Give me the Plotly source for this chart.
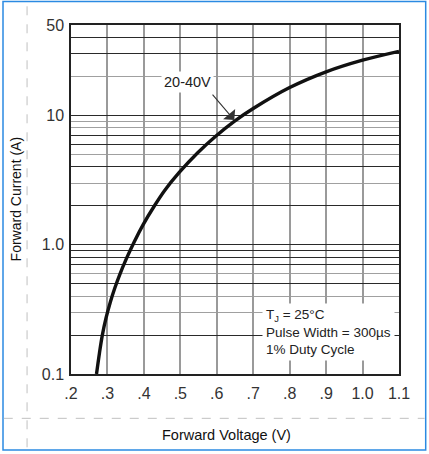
import numpy as np
import plotly.graph_objects as go

# forward voltage (V) vs forward current (A)
voltage = [0.270, 0.278, 0.286, 0.296, 0.308, 0.320, 0.333, 0.352, 0.374, 0.398,
           0.429, 0.458, 0.497, 0.547, 0.597, 0.648, 0.70, 0.80, 0.90, 1.00, 1.10]
current = [0.1, 0.145, 0.2, 0.27, 0.36, 0.46, 0.58, 0.78, 1.06, 1.43,
           2.0, 2.65, 3.62, 5.12, 6.9, 9.0, 11.3, 16.4, 21.7, 26.7, 31.3]

x_ticks = [0.2, 0.3, 0.4, 0.5, 0.6, 0.7, 0.8, 0.9, 1.0, 1.1]
x_labels = [".2", ".3", ".4", ".5", ".6", ".7", ".8", ".9", "1.0", "1.1"]

# dark grid lines (major) and light ones (minor)
y_dark = [0.1, 0.2, 0.5, 0.7, 0.8, 0.9, 1, 2, 4, 6, 7, 10, 30, 40, 50]
y_labels = {0.1: "0.1", 1: "1.0", 10: "10", 50: "50"}
y_light = [0.3, 0.4, 0.6, 3, 5, 8, 9, 20]

series_label = "20-40V"
label_at = (0.519, 18.1)
arrow_at = (0.648, 9.2)
conditions = "T<sub>J</sub> = 25°C<br>Pulse Width = 300µs<br>1% Duty Cycle"

FONT = "Liberation Sans, Arial, sans-serif"

fig = go.Figure()
fig.add_trace(go.Scatter(
    x=voltage, y=current, mode="lines",
    line=dict(color="#111111", width=3.4, shape="spline", smoothing=1),
    showlegend=False, hoverinfo="skip"))

fig.update_xaxes(
    range=[0.2, 1.1], tickmode="array", tickvals=x_ticks, ticktext=x_labels,
    showgrid=True, gridcolor="#9a9a9a", gridwidth=1.5,
    showline=True, mirror=True, linecolor="#222222", linewidth=1.5,
    ticks="", ticklabelstandoff=4, zeroline=False,
    tickfont=dict(family=FONT, size=16, color="#333333"))
fig.update_yaxes(
    type="log", range=[np.log10(0.1), np.log10(50)],
    tickmode="array", tickvals=y_dark,
    ticktext=[y_labels.get(v, "") for v in y_dark],
    showgrid=True, gridcolor="#2a2a2a", gridwidth=1.1,
    minor=dict(tickmode="array", tickvals=y_light, showgrid=True,
               gridcolor="#a0a0a0", gridwidth=1.1, ticks=""),
    showline=True, mirror=True, linecolor="#222222", linewidth=1.5,
    ticks="", ticklabelstandoff=2, zeroline=False,
    tickfont=dict(family=FONT, size=16, color="#333333"))

# curve label and arrow
fig.add_annotation(x=label_at[0], y=np.log10(label_at[1]), xref="x", yref="y",
                   text=series_label, showarrow=False, bgcolor="white", borderpad=2,
                   font=dict(family=FONT, size=14.5, color="#222222"))
fig.add_annotation(x=arrow_at[0], y=np.log10(arrow_at[1]), xref="x", yref="y",
                   text="", showarrow=True, ax=-23, ay=-27,
                   arrowhead=1, arrowsize=2.4, arrowwidth=1.1, arrowcolor="#333333")

# test conditions box
fig.add_annotation(x=0.582, y=0.203, xref="paper", yref="paper",
                   xanchor="left", yanchor="top", text=conditions, align="left",
                   showarrow=False, bgcolor="white", borderpad=3,
                   font=dict(family=FONT, size=13.5, color="#222222"))

# axis titles
fig.add_annotation(x=-0.168, y=0.5, xref="paper", yref="paper", text="Forward Current (A)",
                   textangle=-90, showarrow=False, xanchor="center", yanchor="middle",
                   font=dict(family=FONT, size=14, color="#111111"))
fig.add_annotation(x=0.4756, y=-0.175, xref="paper", yref="paper", text="Forward Voltage (V)",
                   showarrow=False, xanchor="center", yanchor="middle",
                   font=dict(family=FONT, size=14.5, color="#111111"))

# screenshot frame and guide lines
fig.add_shape(type="rect", xref="paper", yref="paper", x0=-0.2073, x1=1.0814,
              y0=-0.2178, y1=1.0673, line=dict(color="#2b8ae2", width=1.5))
fig.add_shape(type="line", xref="paper", yref="paper", x0=-0.134, x1=-0.134,
              y0=-0.21, y1=1.06, line=dict(color="#c0c0c0", width=1, dash="dash"))
fig.add_shape(type="line", xref="paper", yref="paper", x0=-0.205, x1=1.078,
              y0=-0.127, y1=-0.127, line=dict(color="#c0c0c0", width=1, dash="dash"))

fig.update_layout(
    width=429, height=454,
    margin=dict(l=71, r=30, t=25, b=80),
    paper_bgcolor="white", plot_bgcolor="white",
    font=dict(family=FONT))

fig.write_html("out.html", config={"displayModeBar": False},
               post_script="document.body.style.margin='0px';")
